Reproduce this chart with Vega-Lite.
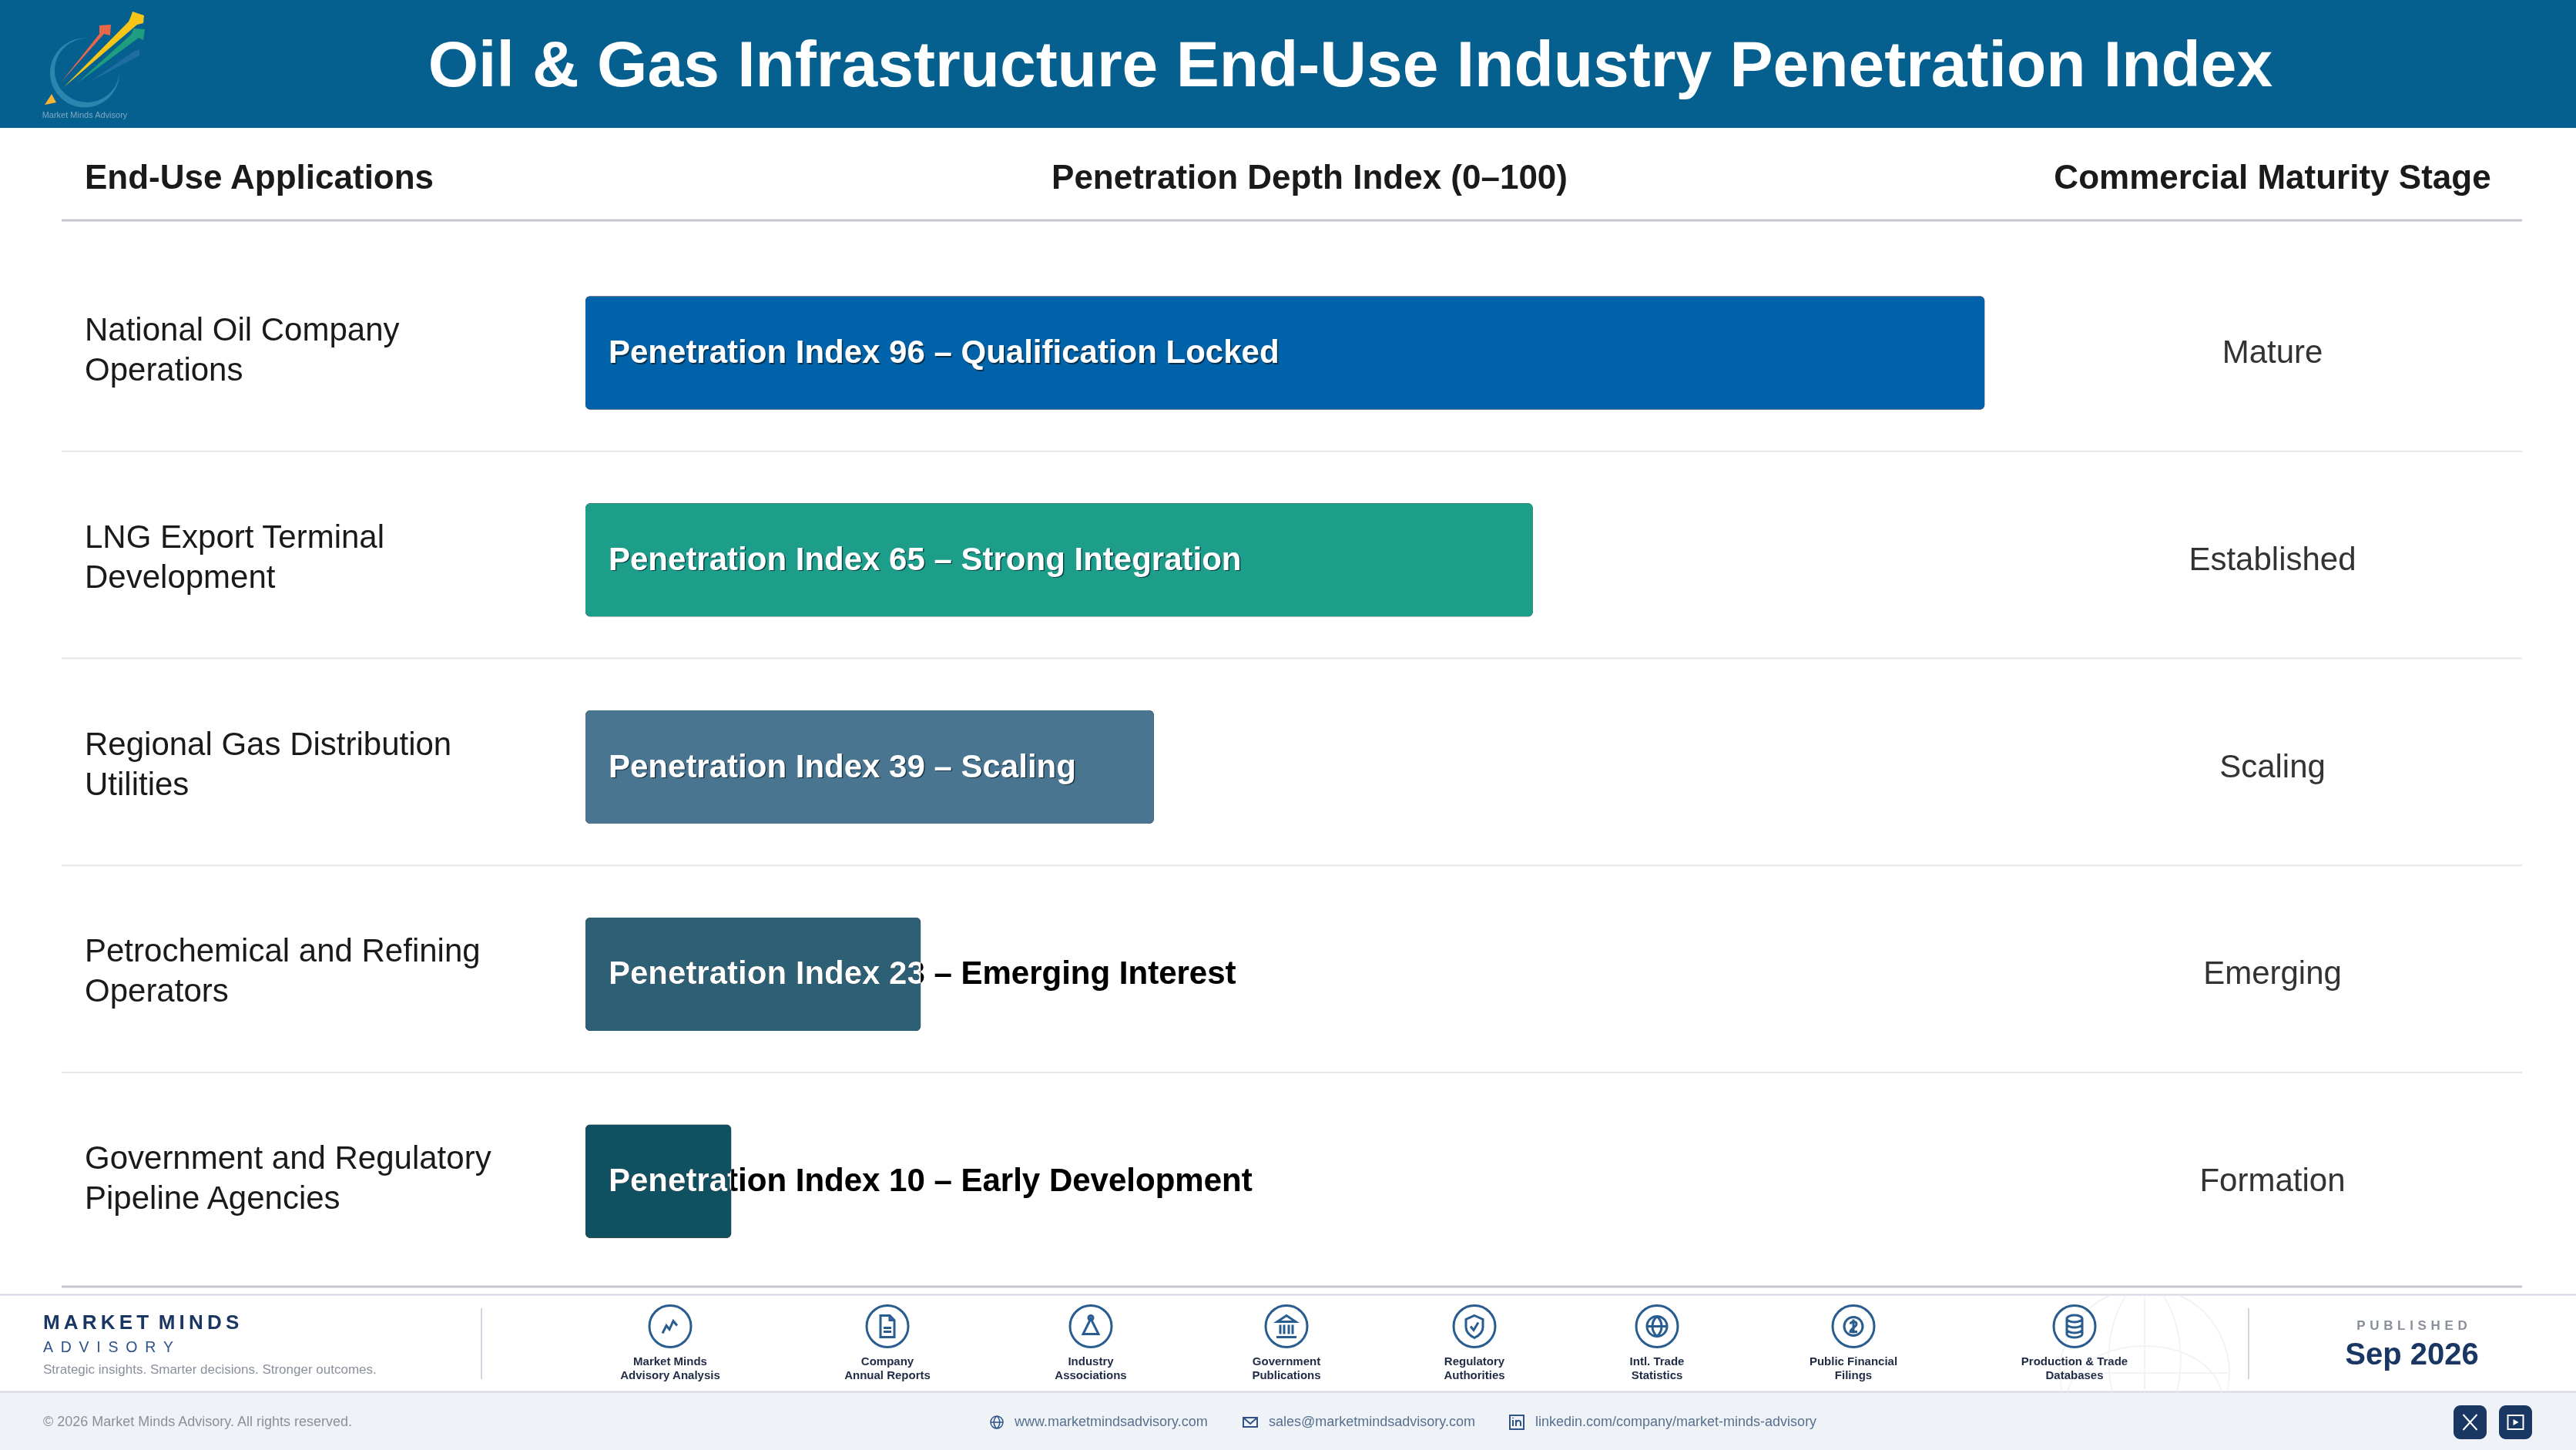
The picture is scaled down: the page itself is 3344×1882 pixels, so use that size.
{
"$schema":"https://vega.github.io/schema/vega-lite/v6.json",
"width":3344,"height":1882,"padding":0,"autosize":{"type":"fit","contains":"padding"},"background":"#ffffff",
"config":{"view":{"stroke":null},"text":{"font":"Liberation Sans"}},
"datasets":{
"rows":[
{"application":"National Oil Company\nOperations","index":96,"label":"Penetration Index 96 – Qualification Locked","stage":"Mature"},
{"application":"LNG Export Terminal\nDevelopment","index":65,"label":"Penetration Index 65 – Strong Integration","stage":"Established"},
{"application":"Regional Gas Distribution\nUtilities","index":39,"label":"Penetration Index 39 – Scaling","stage":"Scaling"},
{"application":"Petrochemical and Refining\nOperators","index":23,"label":"Penetration Index 23 – Emerging Interest","stage":"Emerging"},
{"application":"Government and Regulatory\nPipeline Agencies","index":10,"label":"Penetration Index 10 – Early Development","stage":"Formation"}],
"sources":[
{"seq":1,"source":"Market Minds\nAdvisory Analysis"},
{"seq":2,"source":"Company\nAnnual Reports"},
{"seq":3,"source":"Industry\nAssociations"},
{"seq":4,"source":"Government\nPublications"},
{"seq":5,"source":"Regulatory\nAuthorities"},
{"seq":6,"source":"Intl. Trade\nStatistics"},
{"seq":7,"source":"Public Financial\nFilings"},
{"seq":8,"source":"Production & Trade\nDatabases"}],
"logo":[{"part":"ring"},{"part":"blue"},{"part":"red"},{"part":"green"},{"part":"yellow"},{"part":"tip"}]
},
"resolve":{"scale":{"x":"independent","y":"independent","color":"independent","shape":"independent"}},
"layer":[
{"data":{"values":[{}]},"mark":{"type":"rect","x":0,"x2":3344,"y":0,"y2":166,"color":"#05608F"},"encoding":{}},
{"data":{"values":[{}]},"mark":{"type":"rect","x":0,"x2":3344,"y":1807,"y2":1882,"color":"#EFF3F8"},"encoding":{}},
{"data":{"values":[{}]},"mark":{"type":"rect","x":80,"x2":3274,"y":284.5,"y2":287.5,"color":"#C5C7CE"},"encoding":{}},
{"data":{"values":[{}]},"mark":{"type":"rect","x":80,"x2":3274,"y":1668.5,"y2":1671.5,"color":"#C5C7CE"},"encoding":{}},
{"data":{"values":[{}]},"mark":{"type":"rect","x":0,"x2":3344,"y":1679.5,"y2":1681.5,"color":"#D3D6E2"},"encoding":{}},
{"data":{"values":[{}]},"mark":{"type":"rect","x":0,"x2":3344,"y":1805.5,"y2":1807.5,"color":"#D3D6E2"},"encoding":{}},
{"data":{"values":[{}]},"mark":{"type":"rect","x":624,"x2":626,"y":1698,"y2":1790,"color":"#D3D6E2"},"encoding":{}},
{"data":{"values":[{}]},"mark":{"type":"rect","x":2918,"x2":2920,"y":1698,"y2":1790,"color":"#D3D6E2"},"encoding":{}},

{"data":{"values":[{}]},"mark":{"type":"point","x":2784,"y":1782,"size":4,"filled":false,"stroke":"#ECEEF2","strokeWidth":2,"shape":"M-44 -101 A110 110 0 0 0 -107 25 M44 -101 A110 110 0 0 1 107 25 M-107 0 H107 M-100 25 C-80 -55 80 -55 100 25 M-24 -101 C-50 -60 -50 -10 -42 25 M24 -101 C50 -60 50 -10 42 25 M0 -101 V25"},"encoding":{}},

{"data":{"name":"rows"},"transform":[{"filter":"datum.index != 10"}],
"mark":{"type":"rule","x":80,"x2":3274,"color":"#E6E6E8","strokeWidth":2},
"encoding":{"y":{"field":"application","type":"nominal","bandPosition":0.975,"sort":null,"axis":null,"scale":{"type":"band","paddingInner":0,"paddingOuter":0,"domain":["National Oil Company\nOperations","LNG Export Terminal\nDevelopment","Regional Gas Distribution\nUtilities","Petrochemical and Refining\nOperators","Government and Regulatory\nPipeline Agencies"],"range":[323.6,1667.6]}}}},

{"data":{"name":"rows"},"mark":{"type":"bar","height":147,"cornerRadius":6,"color":"#000000"},
"encoding":{"x":{"field":"index","type":"quantitative","stack":null,"axis":null,"scale":{"domain":[-40.17,136.58],"nice":false,"zero":false}},
"y":{"field":"application","type":"nominal","sort":null,"axis":null,"scale":{"type":"band","paddingInner":0,"paddingOuter":0,"domain":["National Oil Company\nOperations","LNG Export Terminal\nDevelopment","Regional Gas Distribution\nUtilities","Petrochemical and Refining\nOperators","Government and Regulatory\nPipeline Agencies"],"range":[323.6,1667.6]}}}},

{"data":{"name":"rows"},"transform":[{"filter":"datum.index < 39"}],"mark":{"type":"text","x":790,"align":"left","baseline":"middle","fontSize":42,"fontWeight":"bold","color":"#ffffff","blend":"difference"},
"encoding":{"text":{"field":"label"},
"y":{"field":"application","type":"nominal","sort":null,"axis":null,"scale":{"type":"band","paddingInner":0,"paddingOuter":0,"domain":["National Oil Company\nOperations","LNG Export Terminal\nDevelopment","Regional Gas Distribution\nUtilities","Petrochemical and Refining\nOperators","Government and Regulatory\nPipeline Agencies"],"range":[323.6,1667.6]}}}},

{"data":{"name":"rows"},"mark":{"type":"bar","height":147,"cornerRadius":6,"blend":"lighten"},
"encoding":{"x":{"field":"index","type":"quantitative","stack":null,"axis":null,"scale":{"domain":[-40.17,136.58],"nice":false,"zero":false}},
"y":{"field":"application","type":"nominal","sort":null,"axis":null,"scale":{"type":"band","paddingInner":0,"paddingOuter":0,"domain":["National Oil Company\nOperations","LNG Export Terminal\nDevelopment","Regional Gas Distribution\nUtilities","Petrochemical and Refining\nOperators","Government and Regulatory\nPipeline Agencies"],"range":[323.6,1667.6]}},
"color":{"field":"stage","type":"nominal","legend":null,"scale":{"domain":["Mature","Established","Scaling","Emerging","Formation"],"range":["#0062A8","#1C9E8A","#4A7590","#2D5F75","#0F5161"]}}}},

{"data":{"name":"rows"},"transform":[{"filter":"datum.index >= 39"}],"mark":{"type":"text","x":791.5,"dy":1.5,"align":"left","baseline":"middle","fontSize":42,"fontWeight":"bold","color":"#06202E","opacity":0.75},
"encoding":{"text":{"field":"label"},
"y":{"field":"application","type":"nominal","sort":null,"axis":null,"scale":{"type":"band","paddingInner":0,"paddingOuter":0,"domain":["National Oil Company\nOperations","LNG Export Terminal\nDevelopment","Regional Gas Distribution\nUtilities","Petrochemical and Refining\nOperators","Government and Regulatory\nPipeline Agencies"],"range":[323.6,1667.6]}}}},
{"data":{"name":"rows"},"transform":[{"filter":"datum.index >= 39"}],"mark":{"type":"text","x":790,"align":"left","baseline":"middle","fontSize":42,"fontWeight":"bold","color":"#ffffff"},
"encoding":{"text":{"field":"label"},
"y":{"field":"application","type":"nominal","sort":null,"axis":null,"scale":{"type":"band","paddingInner":0,"paddingOuter":0,"domain":["National Oil Company\nOperations","LNG Export Terminal\nDevelopment","Regional Gas Distribution\nUtilities","Petrochemical and Refining\nOperators","Government and Regulatory\nPipeline Agencies"],"range":[323.6,1667.6]}}}},

{"data":{"name":"rows"},"mark":{"type":"text","x":110,"dy":-29,"align":"left","baseline":"middle","fontSize":42,"lineHeight":52,"lineBreak":"\n","color":"#1a1a1a"},
"encoding":{"text":{"field":"application"},
"y":{"field":"application","type":"nominal","sort":null,"axis":null,"scale":{"type":"band","paddingInner":0,"paddingOuter":0,"domain":["National Oil Company\nOperations","LNG Export Terminal\nDevelopment","Regional Gas Distribution\nUtilities","Petrochemical and Refining\nOperators","Government and Regulatory\nPipeline Agencies"],"range":[323.6,1667.6]}}}},

{"data":{"name":"rows"},"mark":{"type":"text","x":2950,"align":"center","baseline":"middle","fontSize":42,"color":"#333333"},
"encoding":{"text":{"field":"stage"},
"y":{"field":"application","type":"nominal","sort":null,"axis":null,"scale":{"type":"band","paddingInner":0,"paddingOuter":0,"domain":["National Oil Company\nOperations","LNG Export Terminal\nDevelopment","Regional Gas Distribution\nUtilities","Petrochemical and Refining\nOperators","Government and Regulatory\nPipeline Agencies"],"range":[323.6,1667.6]}}}},

{"data":{"values":[{"t":"Oil & Gas Infrastructure End-Use Industry Penetration Index"}]},"mark":{"type":"text","x":1753,"y":87,"align":"center","baseline":"middle","fontSize":84,"fontWeight":"bold","color":"#ffffff"},"encoding":{"text":{"field":"t"}}},
{"data":{"values":[{"t":"End-Use Applications"}]},"mark":{"type":"text","x":110,"y":232,"align":"left","baseline":"middle","fontSize":44,"fontWeight":"bold","color":"#1a1a1a"},"encoding":{"text":{"field":"t"}}},
{"data":{"values":[{"t":"Penetration Depth Index (0–100)"}]},"mark":{"type":"text","x":1700,"y":232,"align":"center","baseline":"middle","fontSize":44,"fontWeight":"bold","color":"#1a1a1a"},"encoding":{"text":{"field":"t"}}},
{"data":{"values":[{"t":"Commercial Maturity Stage"}]},"mark":{"type":"text","x":2950,"y":232,"align":"center","baseline":"middle","fontSize":44,"fontWeight":"bold","color":"#1a1a1a"},"encoding":{"text":{"field":"t"}}},

{"data":{"name":"logo"},"mark":{"type":"point","x":0,"y":0,"size":4,"filled":true,"opacity":1},
"encoding":{"shape":{"field":"part","legend":null,"scale":{"domain":["ring","blue","red","green","yellow","tip"],"range":["M117 50 A45 45 0 1 0 155 93 A42 41.5 0 1 1 117 50 Z","M117 106 L172 68 L181 64 L181 72 Z","M79 107 L129 44 L129 33 L144 32 L143 46 L135 44 Z","M100 108 L170 45 L174 37 L188 38 L186 52 L180 49 Z","M83 113 L167 28 L170 21 L172 15 L187 20 L186 30 L178 32 Z","M67 122 L58 136 L73 133 Z"]}},
"color":{"field":"part","legend":null,"scale":{"domain":["ring","blue","red","green","yellow","tip"],"range":["#2B85AE","#1F6EA3","#E8674A","#1E9E7E","#F5C518","#F9B233"]}}}},
{"data":{"values":[{"t":"Market Minds Advisory"}]},"mark":{"type":"text","x":110,"y":150,"align":"center","baseline":"middle","fontSize":11,"color":"#7FA9C3"},"encoding":{"text":{"field":"t"}}},

{"data":{"values":[{"t":"M\u2009A\u2009R\u2009K\u2009E\u2009T \u2009M\u2009I\u2009N\u2009D\u2009S"}]},"mark":{"type":"text","x":56,"y":1717,"align":"left","baseline":"middle","fontSize":26,"fontWeight":"bold","color":"#1A3763"},"encoding":{"text":{"field":"t"}}},
{"data":{"values":[{"t":"A\u2002D\u2002V\u2002I\u2002S\u2002O\u2002R\u2002Y"}]},"mark":{"type":"text","x":56,"y":1749,"align":"left","baseline":"middle","fontSize":19.5,"color":"#2F5288"},"encoding":{"text":{"field":"t"}}},
{"data":{"values":[{"t":"Strategic insights. Smarter decisions. Stronger outcomes."}]},"mark":{"type":"text","x":56,"y":1778,"align":"left","baseline":"middle","fontSize":17,"color":"#8A8F9C"},"encoding":{"text":{"field":"t"}}},
{"data":{"values":[{"t":"© 2026 Market Minds Advisory. All rights reserved."}]},"mark":{"type":"text","x":56,"y":1846,"align":"left","baseline":"middle","fontSize":18,"color":"#8A8F9C"},"encoding":{"text":{"field":"t"}}},

{"data":{"name":"sources"},"mark":{"type":"point","shape":"circle","y":1721.5,"size":2916,"filled":false,"stroke":"#2A5D8F","strokeWidth":3,"opacity":1},
"encoding":{"x":{"field":"seq","type":"quantitative","axis":null,"scale":{"domain":[1,2,3,4,5,6,7,8],"range":[870,1152,1416,1670,1914,2151,2406,2693]}}}},
{"data":{"name":"sources"},"mark":{"type":"point","y":1721.5,"size":4,"filled":false,"stroke":"#2A5D8F","strokeWidth":3,"opacity":1},
"encoding":{"x":{"field":"seq","type":"quantitative","axis":null,"scale":{"domain":[1,2,3,4,5,6,7,8],"range":[870,1152,1416,1670,1914,2151,2406,2693]}},
"shape":{"field":"seq","type":"nominal","legend":null,"scale":{"domain":[1,2,3,4,5,6,7,8],"range":[
"M-10 9 L-5 -1 L-1 4 L4 -7 L9 -1",
"M-9 -14 H3 L9 -8 V14 H-9 Z M3 -14 V-8 H9 M-5 2 H5 M-5 7 H5",
"M0 -10 L-10 10 H10 Z M-3 -11 a3 3 0 1 0 6 0 a3 3 0 1 0 -6 0",
"M-12 -6 L0 -14 L12 -6 Z M-13 14 H13 M-8 -2 V10 M-3 -2 V10 M3 -2 V10 M8 -2 V10",
"M0 -14 L11 -9 V1 C11 7 6 12 0 15 C-6 12 -11 7 -11 1 V-9 Z M-5 0 L-1 5 L5 -5",
"M-13 0 a13 13 0 1 0 26 0 a13 13 0 1 0 -26 0 M-13 0 H13 M0 -13 C-8 -6 -8 6 0 13 C8 6 8 -6 0 -13",
"M-12 0 a12 12 0 1 0 24 0 a12 12 0 1 0 -24 0 M-4 -3 C-3 -7 4 -7 4 -3 C4 1 -4 3 -4 7 H5 M0 -9 V9",
"M-10 -10 a10 4.5 0 1 0 20 0 a10 4.5 0 1 0 -20 0 M-10 -10 V10 a10 4.5 0 0 0 20 0 V-10 M-10 -3 a10 4.5 0 0 0 20 0 M-10 4 a10 4.5 0 0 0 20 0"
]}}}},
{"data":{"name":"sources"},"mark":{"type":"text","y":1767,"align":"center","baseline":"middle","fontSize":15,"lineHeight":18,"lineBreak":"\n","fontWeight":"bold","color":"#1F2A44"},
"encoding":{"text":{"field":"source"},"x":{"field":"seq","type":"quantitative","axis":null,"scale":{"domain":[1,2,3,4,5,6,7,8],"range":[870,1152,1416,1670,1914,2151,2406,2693]}}}},

{"data":{"values":[{"t":"P\u2004U\u2004B\u2004L\u2004I\u2004S\u2004H\u2004E\u2004D"}]},"mark":{"type":"text","x":3131,"y":1721,"align":"center","baseline":"middle","fontSize":17,"fontWeight":"bold","color":"#8A8F9C"},"encoding":{"text":{"field":"t"}}},
{"data":{"values":[{"t":"Sep 2026"}]},"mark":{"type":"text","x":3131,"y":1759,"align":"center","baseline":"middle","fontSize":40,"fontWeight":"bold","color":"#1A3763"},"encoding":{"text":{"field":"t"}}},

{"data":{"values":[{}]},"mark":{"type":"point","x":1294,"y":1846,"size":4,"filled":false,"stroke":"#2F5288","strokeWidth":1.5,"opacity":1,"shape":"M-8 0 a8 8 0 1 0 16 0 a8 8 0 1 0 -16 0 M-8 0 H8 M0 -8 C-5 -4 -5 4 0 8 C5 4 5 -4 0 -8"},"encoding":{}},
{"data":{"values":[{"t":"www.marketmindsadvisory.com"}]},"mark":{"type":"text","x":1317,"y":1846,"align":"left","baseline":"middle","fontSize":18,"color":"#56708F"},"encoding":{"text":{"field":"t"}}},
{"data":{"values":[{}]},"mark":{"type":"point","x":1623,"y":1846,"size":4,"filled":false,"stroke":"#2F5288","strokeWidth":2,"opacity":1,"shape":"M-9 -6 H9 V6 H-9 Z M-9 -6 L0 2 L9 -6"},"encoding":{}},
{"data":{"values":[{"t":"sales@marketmindsadvisory.com"}]},"mark":{"type":"text","x":1647,"y":1846,"align":"left","baseline":"middle","fontSize":18,"color":"#56708F"},"encoding":{"text":{"field":"t"}}},
{"data":{"values":[{}]},"mark":{"type":"point","x":1969,"y":1846,"size":4,"filled":false,"stroke":"#2F5288","strokeWidth":2,"opacity":1,"shape":"M-9 -9 H9 V9 H-9 Z M-5 -3 V5 M-5 -6 V-5 M-1 5 V-3 M-1 0 C1 -3 5 -3 5 1 V5"},"encoding":{}},
{"data":{"values":[{"t":"linkedin.com/company/market-minds-advisory"}]},"mark":{"type":"text","x":1993,"y":1846,"align":"left","baseline":"middle","fontSize":18,"color":"#56708F"},"encoding":{"text":{"field":"t"}}},

{"data":{"values":[{}]},"mark":{"type":"rect","x":3185,"x2":3228,"y":1824,"y2":1868,"cornerRadius":9,"color":"#1A3763"},"encoding":{}},
{"data":{"values":[{}]},"mark":{"type":"rect","x":3244,"x2":3287,"y":1824,"y2":1868,"cornerRadius":9,"color":"#1A3763"},"encoding":{}},
{"data":{"values":[{}]},"mark":{"type":"point","x":3206.5,"y":1846,"size":4,"filled":false,"stroke":"#ffffff","strokeWidth":2,"opacity":1,"shape":"M-9 -10 L9 10 M9 -10 L-9 10"},"encoding":{}},
{"data":{"values":[{}]},"mark":{"type":"point","x":3265.5,"y":1846,"size":4,"filled":false,"stroke":"#ffffff","strokeWidth":2,"opacity":1,"shape":"M-10 -9 H10 V9 H-10 Z"},"encoding":{}},
{"data":{"values":[{}]},"mark":{"type":"point","x":3265.5,"y":1846,"size":4,"filled":true,"color":"#ffffff","opacity":1,"shape":"M-3 -4 L4 0 L-3 4 Z"},"encoding":{}}
]
}
